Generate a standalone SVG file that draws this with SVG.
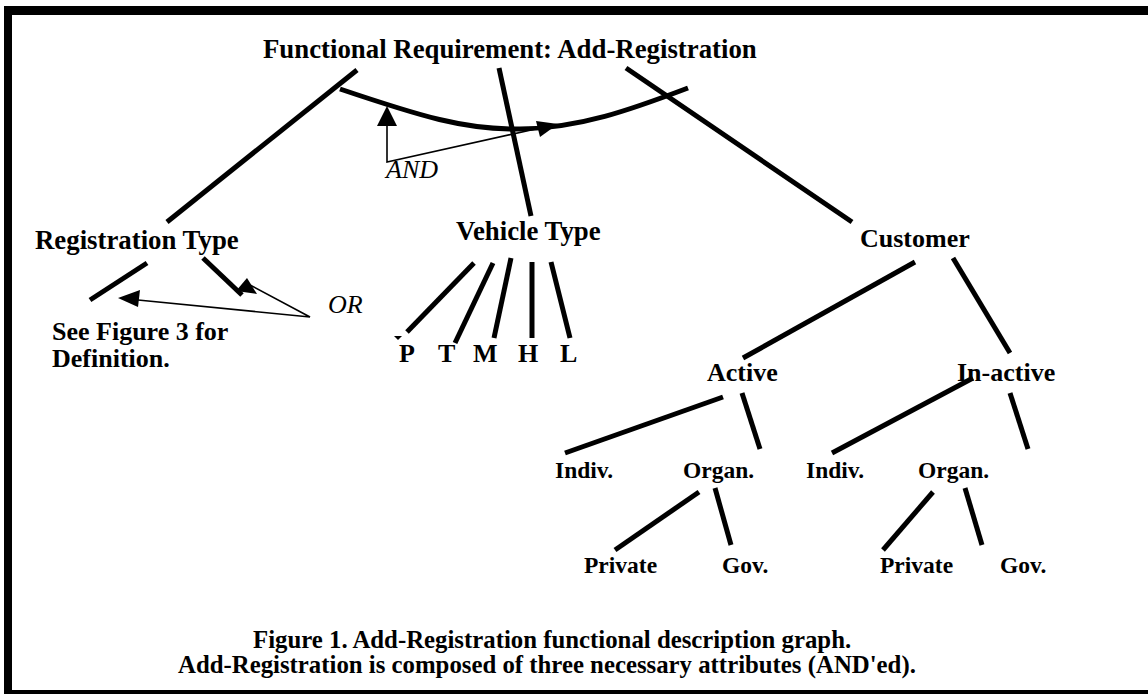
<svg xmlns="http://www.w3.org/2000/svg" width="1148" height="694" viewBox="0 0 1148 694">
  <style>
    .lbl { font-family: "Liberation Serif", "Times New Roman", serif; font-weight: bold; font-size: 26px; fill: #000; }
    .lg { font-size: 26.8px; }
    .sm { font-size: 23.5px; }
    .cap { font-family: "Liberation Serif", "Times New Roman", serif; font-weight: bold; font-size: 24.8px; fill: #000; }
    .op { font-family: "Liberation Serif", "Times New Roman", serif; font-style: italic; font-size: 26px; fill: #000; }
    .edge { stroke: #000; stroke-width: 5; fill: none; }
    .thin { stroke: #000; stroke-width: 1.6; fill: none; }
    .head { fill: #000; stroke: none; }
  </style>

  <rect width="1148" height="694" fill="#fff"/>

  <!-- frame: top, left and bottom rules -->
  <g id="frame" fill="#000">
    <rect x="4" y="6" width="1144" height="9"/>
    <rect x="4" y="6" width="8" height="688"/>
    <rect x="4" y="690" width="1144" height="4"/>
  </g>

  <!-- connectors -->
  <g id="connectors">
    <!-- root to the three attributes -->
    <line class="edge" x1="357" y1="70" x2="167" y2="222"/>
    <line class="edge" x1="499" y1="68" x2="531" y2="216"/>
    <line class="edge" x1="626" y1="68" x2="852" y2="222"/>
    <!-- AND arc across the three branches -->
    <path class="edge" d="M340,89 C420,116 465,130 520,129 C580,128 630,110 688,88"/>
    <!-- AND pointer -->
    <polyline class="thin" points="387,124 387,162 540,128"/>
    <polygon class="head" points="387,106 377,126 397,126"/>
    <polygon class="head" points="558,124 536,121 540,137"/>

    <!-- Registration Type -->
    <line class="edge" x1="147" y1="263" x2="90" y2="300"/>
    <line class="edge" x1="203" y1="258" x2="242" y2="295"/>
    <!-- OR pointer -->
    <polyline class="thin" points="138,300 310,317 250,285"/>
    <polygon class="head" points="118,298 140,290 138,307"/>
    <polygon class="head" points="236,291 247,278 257,294"/>

    <!-- Vehicle Type -->
    <line class="edge" x1="474" y1="263" x2="407" y2="332"/>
    <line class="edge" x1="493" y1="263" x2="455" y2="343"/>
    <line class="edge" x1="511" y1="258" x2="494" y2="338"/>
    <line class="edge" x1="532" y1="262" x2="532" y2="338"/>
    <line class="edge" x1="551" y1="262" x2="570" y2="338"/>
    <polygon class="head" points="394,336 402,336 398,340"/>

    <!-- Customer -->
    <line class="edge" x1="915" y1="262" x2="743" y2="358"/>
    <line class="edge" x1="953" y1="258" x2="1010" y2="353"/>
    <!-- Active -->
    <line class="edge" x1="723" y1="397" x2="565" y2="453"/>
    <line class="edge" x1="742" y1="393" x2="760" y2="449"/>
    <!-- In-active -->
    <line class="edge" x1="973" y1="378" x2="832" y2="453"/>
    <line class="edge" x1="1010" y1="393" x2="1028" y2="449"/>
    <!-- Organ. (active) -->
    <line class="edge" x1="699" y1="492" x2="615" y2="550"/>
    <line class="edge" x1="715" y1="488" x2="731" y2="545"/>
    <!-- Organ. (in-active) -->
    <line class="edge" x1="933" y1="492" x2="883" y2="550"/>
    <line class="edge" x1="965" y1="488" x2="982" y2="545"/>
  </g>

  <g id="root"><text class="lbl lg" x="263" y="58">Functional Requirement: Add-Registration</text></g>
  <g id="and-label"><text class="op" x="386" y="178">AND</text></g>

  <g id="registration-type"><text class="lbl lg" x="35" y="249">Registration Type</text></g>
  <g id="or-label"><text class="op" x="328" y="313">OR</text></g>
  <g id="see-figure">
    <text class="lbl" x="52" y="340">See Figure 3 for</text>
    <text class="lbl" x="52" y="367">Definition.</text>
  </g>

  <g id="vehicle-type"><text class="lbl lg" x="456" y="240">Vehicle Type</text></g>
  <g id="vt-p"><text class="lbl" x="399" y="362">P</text></g>
  <g id="vt-t"><text class="lbl" x="438" y="362">T</text></g>
  <g id="vt-m"><text class="lbl" x="473" y="362">M</text></g>
  <g id="vt-h"><text class="lbl" x="518" y="362">H</text></g>
  <g id="vt-l"><text class="lbl" x="560" y="362">L</text></g>

  <g id="customer"><text class="lbl" x="860" y="247">Customer</text></g>
  <g id="active"><text class="lbl" x="707" y="381">Active</text></g>
  <g id="inactive"><text class="lbl" x="957" y="381">In-active</text></g>

  <g id="active-indiv"><text class="lbl sm" x="555" y="478">Indiv.</text></g>
  <g id="active-organ"><text class="lbl sm" x="683" y="478">Organ.</text></g>
  <g id="inactive-indiv"><text class="lbl sm" x="806" y="478">Indiv.</text></g>
  <g id="inactive-organ"><text class="lbl sm" x="918" y="478">Organ.</text></g>

  <g id="active-private"><text class="lbl sm" x="584" y="573">Private</text></g>
  <g id="active-gov"><text class="lbl sm" x="722" y="573">Gov.</text></g>
  <g id="inactive-private"><text class="lbl sm" x="880" y="573">Private</text></g>
  <g id="inactive-gov"><text class="lbl sm" x="1000" y="573">Gov.</text></g>

  <g id="caption">
    <text class="cap" x="253" y="648">Figure 1. Add-Registration functional description graph.</text>
    <text class="cap" x="178" y="673">Add-Registration is composed of three necessary attributes (AND'ed).</text>
  </g>
</svg>
